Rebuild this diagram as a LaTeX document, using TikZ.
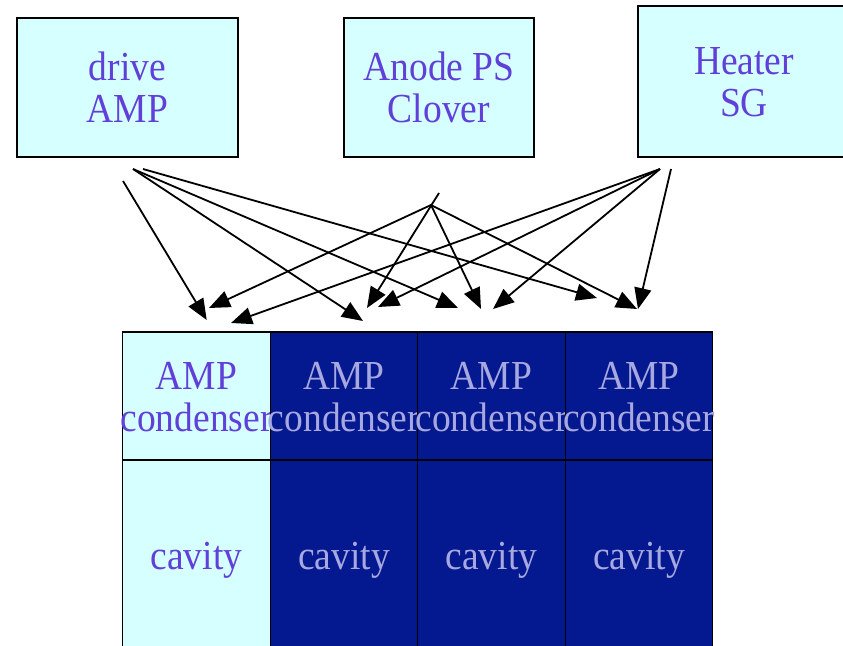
\documentclass[tikz,border=0pt]{standalone}
\usepackage{fontspec}
\setmainfont{Liberation Serif}
\usetikzlibrary{arrows.meta}
\definecolor{lcyan}{HTML}{D6FFFF}
\definecolor{navy}{HTML}{041890}
\definecolor{ptext}{HTML}{6040D8}
\definecolor{ltext}{HTML}{A8A8E0}
\newcommand\talltext[1]{\smash{\makebox[0pt]{\scalebox{1}[1.1]{\fontsize{37.5}{38.2}\selectfont\begin{tabular}{@{}c@{}}#1\end{tabular}}}}\rule{0pt}{25pt}}
\begin{document}
\begin{tikzpicture}[x=1pt,y=-1pt,
  srcbox/.style={draw=black,line width=1.3pt,fill=lcyan,text=ptext,inner sep=0pt,rectangle},
  lcell/.style={draw=black,line width=1.3pt,fill=lcyan,text=ptext,inner sep=0pt,rectangle,minimum width=147.5pt},
  dcell/.style={draw=black,line width=1.3pt,fill=navy,text=ltext,inner sep=0pt,rectangle,minimum width=147.5pt},
  toprow/.style={minimum height=128pt},
  botrow/.style={minimum height=190pt},
  conn/.style={draw=black,line width=1.8pt,-{Triangle[length=21pt,width=17pt]}}]
\useasboundingbox (0,0) rectangle (843,645);
\fill[white] (0,0) rectangle (843,645);
% source boxes
\node[srcbox,minimum width=221pt,minimum height=139pt] (drive) at (127.5,87.5) {\talltext{drive\\AMP}};
\node[srcbox,minimum width=190pt,minimum height=139pt] (anode) at (439,87.5) {\talltext{Anode PS\\Clover}};
\node[srcbox,minimum width=212pt,minimum height=151pt] (heater) at (744,81.5) {\talltext{Heater\\SG}};
% grid
\node[lcell,toprow] (c1t) at (196.5,396) {\talltext{AMP\\condenser}};
\node[dcell,toprow] (c2t) at (344,396) {\talltext{AMP\\condenser}};
\node[dcell,toprow] (c3t) at (491.5,396) {\talltext{AMP\\condenser}};
\node[dcell,toprow] (c4t) at (639,396) {\talltext{AMP\\condenser}};
\node[lcell,botrow] (c1b) at (196.5,555) {\talltext{cavity}};
\node[dcell,botrow] (c2b) at (344,555) {\talltext{cavity}};
\node[dcell,botrow] (c3b) at (491.5,555) {\talltext{cavity}};
\node[dcell,botrow] (c4b) at (639,555) {\talltext{cavity}};
% arrow start points
\coordinate (dA) at (123,181);
\coordinate (dB) at (133,169);
\coordinate (dC) at (143,169);
\coordinate (aA) at (431,205);
\coordinate (aB) at (439,193);
\coordinate (hA) at (660,169);
\coordinate (hB) at (671,169);
% arrow end points
\coordinate (t1d) at (206.7,320);
\coordinate (t1a) at (209,308);
\coordinate (t1h) at (231,323);
\coordinate (t2d) at (363,321);
\coordinate (t2a) at (367,308);
\coordinate (t2h) at (378,307);
\coordinate (t3d) at (458,308);
\coordinate (t3a) at (481,309);
\coordinate (t3h) at (493,309);
\coordinate (t4d) at (597,298);
\coordinate (t4a) at (637,309);
\coordinate (t4h) at (638,309);
% connectors
\draw[conn] (dA) -- (t1d);
\draw[conn] (dB) -- (t2d);
\draw[conn] (dB) -- (t3d);
\draw[conn] (dC) -- (t4d);
\draw[conn] (aA) -- (t1a);
\draw[conn] (aB) -- (t2a);
\draw[conn] (aA) -- (t3a);
\draw[conn] (aA) -- (t4a);
\draw[conn] (hA) -- (t1h);
\draw[conn] (hA) -- (t2h);
\draw[conn] (hA) -- (t3h);
\draw[conn] (hB) -- (t4h);
\end{tikzpicture}
\end{document}
